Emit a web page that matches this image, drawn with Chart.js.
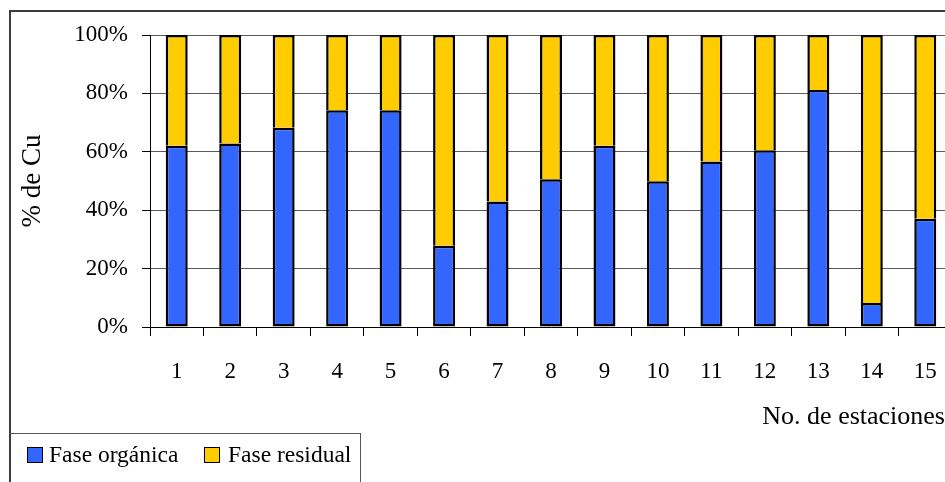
<!DOCTYPE html>
<html>
<head>
<meta charset="utf-8">
<script src="https://cdn.jsdelivr.net/npm/chart.js@4/dist/chart.umd.min.js"></script>
<style>
  html, body { margin: 0; padding: 0; background: #fff; }
  body { width: 945px; height: 482px; overflow: hidden; position: relative; font-family: "Liberation Serif", "Times New Roman", serif; }
  #frame { position: absolute; left: 9px; top: 10px; width: 1000px; height: 1000px; border-left: 2px solid #3c3c3c; border-top: 2px solid #3c3c3c; }
  #wrap { position: absolute; left: 0; top: 0; width: 960px; height: 482px; }
  #xtitle { position: absolute; right: 0; top: 403px; font-size: 26px; line-height: 26px; color: #000; white-space: nowrap; }
  #legend { position: absolute; left: 9px; top: 433px; width: 351px; height: 60px; border-top: 1.5px solid #555; border-right: 1.5px solid #555; }
  .sw { position: absolute; top: 13px; width: 14px; height: 14px; border: 1.5px solid #000; }
  .lt { position: absolute; top: 9px; font-size: 23.5px; line-height: 23px; color: #000; white-space: nowrap; }
</style>
</head>
<body>
<div id="frame"></div>
<div id="wrap"><canvas id="c" width="960" height="482"></canvas></div>
<div id="xtitle">No. de estaciones</div>
<div id="legend">
  <div class="sw" style="left:18px;background:#3366FF"></div><div class="lt" style="left:40px">Fase orgánica</div>
  <div class="sw" style="left:195px;background:#FFCC00"></div><div class="lt" style="left:219px">Fase residual</div>
</div>
<script>
// Station numbers along the x axis
const estaciones = ['1','2','3','4','5','6','7','8','9','10','11','12','13','14','15'];
// Share of copper (%) in each phase per station
const faseOrganica = [62.1, 62.8, 68.2, 74.2, 74.2, 27.8, 43.0, 50.6, 62.1, 49.9, 56.7, 60.5, 81.2, 8.2, 37.1];
const faseResidual = [37.9, 37.2, 31.8, 25.8, 25.8, 72.2, 57.0, 49.4, 37.9, 50.1, 43.3, 39.5, 18.8, 91.8, 62.9];
// Y axis ticks
const yTicks = [0, 20, 40, 60, 80, 100];

const serif = '"Liberation Serif", "Times New Roman", serif';

new Chart(document.getElementById('c'), {
  type: 'bar',
  data: {
    labels: estaciones,
    datasets: [
      { label: 'Fase orgánica', data: faseOrganica, backgroundColor: '#3366FF', borderColor: '#000', borderWidth: 2.5, borderSkipped: false },
      { label: 'Fase residual', data: faseResidual, backgroundColor: '#FFCC00', borderColor: '#000', borderWidth: 2.5, borderSkipped: 'bottom' }
    ]
  },
  options: {
    responsive: false,
    animation: false,
    layout: { padding: { top: 35, right: 8, bottom: 0, left: 0 } },
    datasets: { bar: { barPercentage: 0.411, categoryPercentage: 1 } },
    plugins: { legend: { display: false }, tooltip: { enabled: false } },
    scales: {
      x: {
        stacked: true,
        offset: true,
        grid: { offset: true, drawOnChartArea: false, drawTicks: true, tickLength: 9, tickColor: '#000', tickWidth: 1 },
        border: { display: true, color: '#000', width: 1 },
        ticks: { color: '#000', padding: 22, maxRotation: 0, font: { family: serif, size: 23 } },
        afterFit: (s) => { s.height = 155; }
      },
      y: {
        stacked: true,
        min: 0,
        max: 100,
        afterBuildTicks: (s) => { s.ticks = yTicks.map(v => ({ value: v })); },
        grid: { color: '#5a5a5a', lineWidth: 1, tickLength: 8, tickColor: '#000' },
        border: { display: true, color: '#000', width: 1 },
        ticks: { color: '#000', padding: 14, font: { family: serif, size: 23 }, callback: (v) => v + '%' },
        title: { display: true, text: '% de Cu', color: '#000', padding: { top: 17, bottom: 0 }, font: { family: serif, size: 27, weight: 'normal' } },
        afterFit: (s) => { s.width = 150; }
      }
    }
  }
});
</script>
</body>
</html>
